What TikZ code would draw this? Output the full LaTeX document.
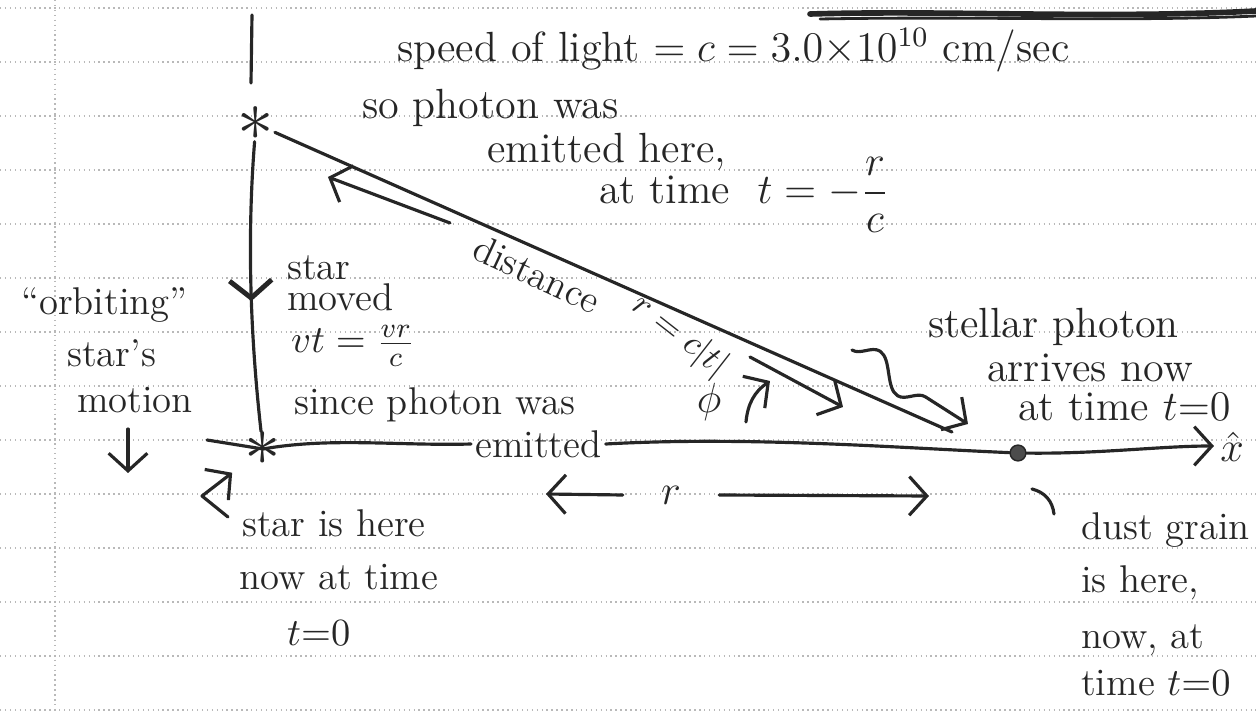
\documentclass[tikz,border=0pt]{standalone}
\usepackage{amsmath}
\usetikzlibrary{positioning,arrows.meta,decorations.pathmorphing,decorations.markings}

\tikzset{
  ink/.style={draw=black!85, line width=0.9pt, line cap=round, line join=round},
  barb/.style={-{Straight Barb[length=5pt,width=11pt]}},
  hand/.style={font=\fontsize{11}{13}\selectfont, text=black!85, inner sep=1pt, anchor=west},
  ruled/.style={gray!55, densely dotted, line width=0.4pt},
  startxt/.style={font=\huge, text=black!85, inner sep=0pt},
}

\begin{document}
\begin{tikzpicture}[x=0.01cm,y=-0.01cm]
\useasboundingbox (0,0) rectangle (1256,712);

% notebook page
\foreach \yy in {8,62,...,710}
  \draw[ruled] (0,\yy) -- (1256,\yy);
\draw[ruled] (55,0) -- (55,712);
\draw[ink, line width=1.6pt] (810,14) .. controls (950,10) and (1100,19) .. (1256,11);
\draw[ink, line width=0.8pt] (820,19) .. controls (980,16) and (1120,22) .. (1256,16);

% stars, dust grain
\node[startxt] (star1) at (256,124) {$\ast$};
\node[startxt] (star2) at (263,449) {$\ast$};
\node[circle, fill=black!70, draw=black!85, inner sep=0pt, minimum size=4.5pt] (dust) at (1018,453) {};
\coordinate (pend) at (952,432);
\coordinate (axL) at (207,440);
\coordinate (xend) at (1214,446);
\coordinate (topA) at (252,15);
\coordinate (topB) at (251,83);

% text
\node[hand, font=\large] (speed) at (393,50) {speed of light $= c = 3.0{\times}10^{10}$ cm/sec};
\node[hand, font=\large] (sophot) at (358,108) {so photon was};
\node[hand, font=\large] (emhere) at (483,152) {emitted here,};
\node[hand, font=\large] (attime) at (595,195) {at time \ $t = -\dfrac{r}{c}$};
\node[hand, anchor=center, rotate=-25] (dist) at (537,274) {distance};
\node[hand, font=\normalsize, anchor=center, rotate=-38] (rct) at (680,336) {$r = c|t|$};
\node[hand] (smove1) at (283,268) {star};
\node[hand] (smove2) at (283,297) {moved};
\node[hand] (smove3) at (287,346) {$vt = \tfrac{vr}{c}$};
\node[hand] (smove4) at (290,405) {since photon was};
\node[hand] (emit) at (471,444) {emitted};
\node[hand] (orbit) at (17,305) {``orbiting''};
\node[hand] (orbit2) at (63,353) {star's};
\node[hand] (motion) at (73,400) {motion};
\node[hand] (shere1) at (238,523) {star is here};
\node[hand] (shere2) at (235,577) {now at time};
\node[hand] (shere3) at (283,633) {$t{=}0$};
\node[hand] (dhere1) at (1077,530) {dust grain};
\node[hand] (dhere2) at (1077,583) {is here,};
\node[hand] (dhere3) at (1077,640) {now, at};
\node[hand] (dhere4) at (1077,683) {time $t{=}0$};
\node[hand, font=\large] (arr1) at (924,327) {stellar photon};
\node[hand, font=\large] (arr2) at (983,368) {arrives now};
\node[hand, font=\large] (arr3) at (1014,407) {at time $t{=}0$};
\node[font=\large, text=black!85] (phi) at (709,402) {$\phi$};
\node[font=\large, text=black!85, minimum width=0.95cm] (r) at (671,495) {$r$};
\node[font=\large, text=black!85] (xhat) at (1232,447) {$\hat{x}$};

% star path, photon path, axis
\draw[ink] (topA) -- (topB);
\draw[ink, postaction={decorate}, decoration={markings,
  mark=at position 0.55 with {\arrow[line width=1.4pt]{Straight Barb[length=5pt,width=12pt]}}}]
  (star1) .. controls (246,250) and (252,350) .. (star2);
\draw[ink] (star1) -- (pend);
\draw[ink] (axL) -- (star2.center) .. controls (330,437) and (400,446) .. (emit.west);
\draw[ink] (emit.east) .. controls (750,436) and (900,448) .. (dust);
\draw[ink, barb] (dust) .. controls (1100,454) and (1160,446) .. (xend);

% distance arrows
\coordinate (dL1) at (450,223);
\coordinate (dL2) at (328,177);
\coordinate (dR1) at (750,357);
\coordinate (dR2) at (843,407);
\draw[ink, barb] (dL1) -- (dL2);
\draw[ink, barb] (dR1) -- (dR2);
\coordinate (phiA) at (746,422);
\coordinate (phiB) at (770,381);
\draw[ink, barb] (phiA) to[bend left=25] (phiB);
\coordinate (rL) at (546,494);
\coordinate (rR) at (929,496);
\draw[ink, barb] (r.west) -- (rL);
\draw[ink, barb] (r.east) -- (rR);

% photon wiggle
\coordinate (wav1) at (852,350);
\coordinate (wav2) at (968,424);
\draw[ink, barb, decorate, decoration={snake, amplitude=4pt, segment length=22pt, post length=6pt}] (wav1) -- (wav2);

% pointers
\coordinate (mdown) at (128,473);
\draw[ink, barb, shorten <=0.12cm] (motion.south -| mdown) -- (mdown);
\coordinate (brk) at (228,517);
\coordinate (brkv) at (202,496);
\draw[ink, barb, shorten >=0.15cm] (brk) -- (brkv) -- (star2);
\coordinate (hookA) at (1032,489);
\coordinate (hookB) at (1054,514);
\draw[ink] (hookA) to[bend left=35] (hookB);

\end{tikzpicture}
\end{document}
